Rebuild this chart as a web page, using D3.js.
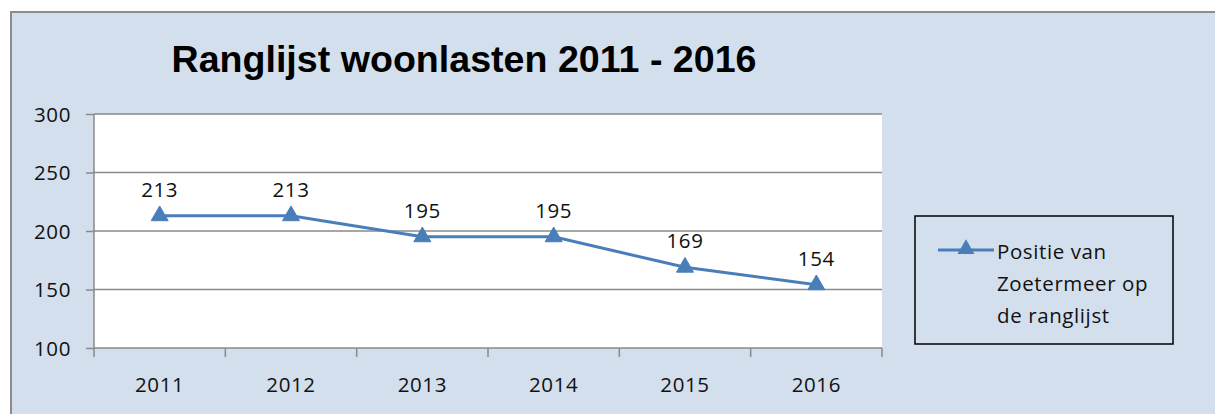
<!DOCTYPE html>
<html>
<head>
<meta charset="utf-8">
<script src="https://cdn.jsdelivr.net/npm/d3@7"></script>
<style>
    body { margin: 0; background: #ffffff; }
    svg { display: block; }
    .tickLabel { font-family: "Open Sans", sans-serif; font-size: 20.5px; fill: #111; letter-spacing: 0.6px; }
</style>
</head>
<body>
<script>
(function(){

    //chart data
    var years = ["2011", "2012", "2013", "2014", "2015", "2016"];
    var positions = [213, 213, 195, 195, 169, 154];
    var yTicks = [100, 150, 200, 250, 300];
    var chartTitle = "Ranglijst woonlasten 2011 - 2016";
    var legendLines = ["Positie van", "Zoetermeer op", "de ranglijst"];

    var width = 1215, height = 414;

    var svg = d3.select("body")
        .append("svg")
        .attr("width", width)
        .attr("height", height);

    //chart area background with gray border
    svg.append("rect")
        .attr("x", 11)
        .attr("y", 12)
        .attr("width", width + 20)
        .attr("height", height + 20)
        .style("fill", "#d3dfec")
        .style("stroke", "#8c8c8c")
        .style("stroke-width", 2);

    //title
    svg.append("text")
        .attr("x", 464)
        .attr("y", 72)
        .attr("text-anchor", "middle")
        .attr("textLength", 585)
        .attr("lengthAdjust", "spacingAndGlyphs")
        .style("font-family", "'Liberation Sans', Arial, sans-serif")
        .style("font-weight", "bold")
        .style("font-size", "36px")
        .style("fill", "#000")
        .text(chartTitle);

    //plot area
    var left = 94, right = 882, top = 114, bottom = 348;

    var x = d3.scaleBand()
        .domain(years)
        .range([left, right]);

    var y = d3.scaleLinear()
        .domain([100, 300])
        .range([bottom, top]);

    svg.append("rect")
        .attr("x", left)
        .attr("y", top)
        .attr("width", right - left)
        .attr("height", bottom - top)
        .style("fill", "#ffffff");

    //horizontal gridlines
    svg.selectAll(".grid")
        .data(yTicks.filter(function(d){ return d > 100; }))
        .enter()
        .append("line")
        .attr("class", "grid")
        .attr("x1", left)
        .attr("x2", right)
        .attr("y1", function(d){ return y(d); })
        .attr("y2", function(d){ return y(d); })
        .style("stroke", "#8a8a8a")
        .style("stroke-width", 1.5);

    //y axis
    var yAxis = d3.axisLeft(y)
        .tickValues(yTicks)
        .tickSize(8)
        .tickPadding(15);

    var yg = svg.append("g")
        .attr("transform", "translate(" + left + ",0)")
        .call(yAxis);
    yg.select(".domain").remove();
    yg.append("line")
        .attr("x1", 0).attr("x2", 0)
        .attr("y1", top).attr("y2", bottom + 1);
    yg.selectAll("line").style("stroke", "#8a8a8a").style("stroke-width", 1.5);
    yg.selectAll("text")
        .attr("class", "tickLabel")
        .attr("dy", "0.35em");

    //x axis: ticks between categories
    var boundaries = years.map(function(d){ return x(d); }).concat([right]);
    svg.append("line")
        .attr("x1", left).attr("x2", right)
        .attr("y1", bottom).attr("y2", bottom)
        .style("stroke", "#8a8a8a")
        .style("stroke-width", 1.5);
    svg.selectAll(".xtick")
        .data(boundaries)
        .enter()
        .append("line")
        .attr("class", "xtick")
        .attr("x1", function(d){ return d; })
        .attr("x2", function(d){ return d; })
        .attr("y1", bottom)
        .attr("y2", bottom + 9)
        .style("stroke", "#8a8a8a")
        .style("stroke-width", 1.5);
    svg.selectAll(".xlabel")
        .data(years)
        .enter()
        .append("text")
        .attr("class", "tickLabel")
        .attr("x", function(d){ return x(d) + x.bandwidth() / 2; })
        .attr("y", 392)
        .attr("text-anchor", "middle")
        .text(function(d){ return d; });

    //series line
    var points = years.map(function(d, i){ return { year: d, value: positions[i] }; });
    var cx = function(d){ return x(d.year) + x.bandwidth() / 2; };

    var line = d3.line()
        .x(cx)
        .y(function(d){ return y(d.value); });

    svg.append("path")
        .datum(points)
        .attr("d", line)
        .style("fill", "none")
        .style("stroke", "#4a7ebb")
        .style("stroke-width", 3);

    var tri = d3.symbol().type(d3.symbolTriangle).size(125);

    svg.selectAll(".marker")
        .data(points)
        .enter()
        .append("path")
        .attr("class", "marker")
        .attr("d", tri)
        .attr("transform", function(d){ return "translate(" + cx(d) + "," + y(d.value) + ")"; })
        .style("fill", "#4a7ebb")
        .style("stroke", "#4a7ebb")
        .style("stroke-width", 1);

    //data labels
    svg.selectAll(".valueLabel")
        .data(points)
        .enter()
        .append("text")
        .attr("class", "tickLabel")
        .attr("x", cx)
        .attr("y", function(d){ return y(d.value) - 19; })
        .attr("text-anchor", "middle")
        .text(function(d){ return d.value; });

    //legend
    var legend = svg.append("g");
    legend.append("rect")
        .attr("x", 915)
        .attr("y", 216)
        .attr("width", 258)
        .attr("height", 128)
        .style("fill", "none")
        .style("stroke", "#000")
        .style("stroke-width", 1.5);
    legend.append("line")
        .attr("x1", 938).attr("x2", 994)
        .attr("y1", 250).attr("y2", 250)
        .style("stroke", "#4a7ebb")
        .style("stroke-width", 3);
    legend.append("path")
        .attr("d", tri)
        .attr("transform", "translate(966,249)")
        .style("fill", "#4a7ebb");
    legend.selectAll(".legendText")
        .data(legendLines)
        .enter()
        .append("text")
        .attr("class", "tickLabel")
        .attr("x", 997)
        .attr("y", function(d, i){ return 259 + i * 32; })
        .text(function(d){ return d; });

})();
</script>
</body>
</html>
